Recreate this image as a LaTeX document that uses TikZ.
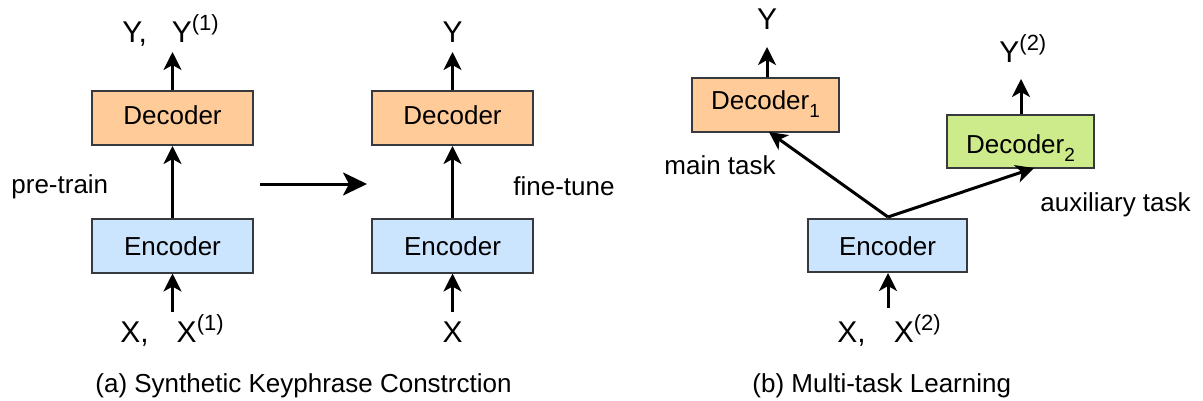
\documentclass[tikz,border=0pt]{standalone}
\usepackage{fontspec}
\setmainfont{Liberation Sans}
\usetikzlibrary{arrows.meta}
\definecolor{boxline}{HTML}{36393D}
\definecolor{decfill}{HTML}{FFCC99}
\definecolor{encfill}{HTML}{CCE5FF}
\definecolor{auxfill}{HTML}{CDEB8B}
\newcommand\mysup[1]{\raisebox{6pt}{\fontsize{11}{12}\selectfont #1}}
\newcommand\mysub[1]{\raisebox{-4pt}{\fontsize{9.5}{10}\selectfont #1}}
\begin{document}
\begin{tikzpicture}[x=0.5pt,y=-0.5pt,
  box/.style={draw=boxline, line width=1pt, inner sep=0pt, minimum height=27pt,
    font=\fontsize{13}{15}\selectfont, text height=9.5pt, text depth=2.5pt},
  encbox/.style={box, fill=encfill, text height=10pt, text depth=0.5pt},
  decbox/.style={box, fill=decfill},
  lbl/.style={inner sep=0pt, font=\fontsize{13}{15}\selectfont},
  io/.style={inner sep=0pt, font=\fontsize{15}{17}\selectfont},
  arr/.style={line width=1.5pt, -{Stealth[length=9pt,width=9pt,inset=2.5pt]}},
  bigarr/.style={line width=1.5pt, -{Stealth[length=12pt,width=11.5pt,inset=3pt]}}]
\useasboundingbox (0,0) rectangle (1203,401);

% ---- (a) pre-train
\node[decbox, minimum width=80.5pt] (dec1) at (172.5,118) {Decoder};
\node[encbox, minimum width=80.5pt] (enc1) at (172.5,245.5) {Encoder};
\node[io, anchor=base west] (y1) at (122,43) {Y,\hspace{12.5pt}Y\mysup{(1)}};
\node[io, anchor=base west] (x1) at (120,342) {X,\hspace{14pt}X\mysup{(1)}};
\coordinate (y1tip) at (172.5,52);
\coordinate (x1tail) at (172.5,312);
\draw[arr] (dec1.north) -- (y1tip);
\draw[arr] (enc1.north) -- (dec1.south);
\draw[arr] (x1tail) -- (enc1.south);
\node[lbl, anchor=base west] (pretrain) at (11,193) {pre-train};

% ---- transfer arrow
\coordinate (ha) at (260,184);
\coordinate (hb) at (367,184);
\draw[bigarr] (ha) -- (hb);

% ---- (a) fine-tune
\node[decbox, minimum width=80.5pt] (dec2) at (452.5,118) {Decoder};
\node[encbox, minimum width=80.5pt] (enc2) at (452.5,245.5) {Encoder};
\node[io, anchor=base] (y2) at (452.5,43) {Y};
\node[io, anchor=base] (x2) at (452.5,342) {X};
\coordinate (y2tip) at (452.5,52);
\coordinate (x2tail) at (452.5,312);
\draw[arr] (dec2.north) -- (y2tip);
\draw[arr] (enc2.north) -- (dec2.south);
\draw[arr] (x2tail) -- (enc2.south);
\node[lbl, anchor=base west] (finetune) at (513,195) {fine-tune};

\node[lbl, anchor=base west] (capa) at (95,392) {(a) Synthetic Keyphrase Constrction};

% ---- (b) multi-task
\node[decbox, minimum width=73.5pt, text height=9.5pt, text depth=4.5pt] (rdec1) at (765.5,105) {Decoder\mysub{1}};
\node[box, fill=auxfill, minimum width=73.5pt, minimum height=26.5pt, text height=13pt, text depth=1pt] (rdec2) at (1020.5,141.5) {Decoder\mysub{2}};
\node[encbox, minimum width=79.5pt, minimum height=26.5pt] (renc) at (887.5,245.5) {Encoder};
\node[io, anchor=base] (ry) at (767,30) {Y};
\node[io, anchor=base west] (ry2) at (999,63) {Y\mysup{(2)}};
\node[io, anchor=base west] (rx) at (837,342) {X,\hspace{14pt}X\mysup{(2)}};
\coordinate (rytip) at (767,47);
\coordinate (ry2tip) at (1021,79);
\coordinate (rxtail) at (888,308);
\coordinate (split) at (888,217);
\coordinate (d1in) at (769,132);
\coordinate (d2in) at (1034,168);
\draw[arr] (rdec1.north -| rytip) -- (rytip);
\draw[arr] (rdec2.north -| ry2tip) -- (ry2tip);
\draw[arr] (rxtail) -- (renc.south -| rxtail);
\draw[arr] (split) -- (d1in);
\draw[arr] (split) -- (d2in);
\node[lbl, anchor=base west] (maintask) at (664,174) {main task};
\node[lbl, anchor=base west] (auxtask) at (1040,211) {auxiliary task};

\node[lbl, anchor=base west] (capb) at (752,392) {(b) Multi-task Learning};
\end{tikzpicture}
\end{document}
